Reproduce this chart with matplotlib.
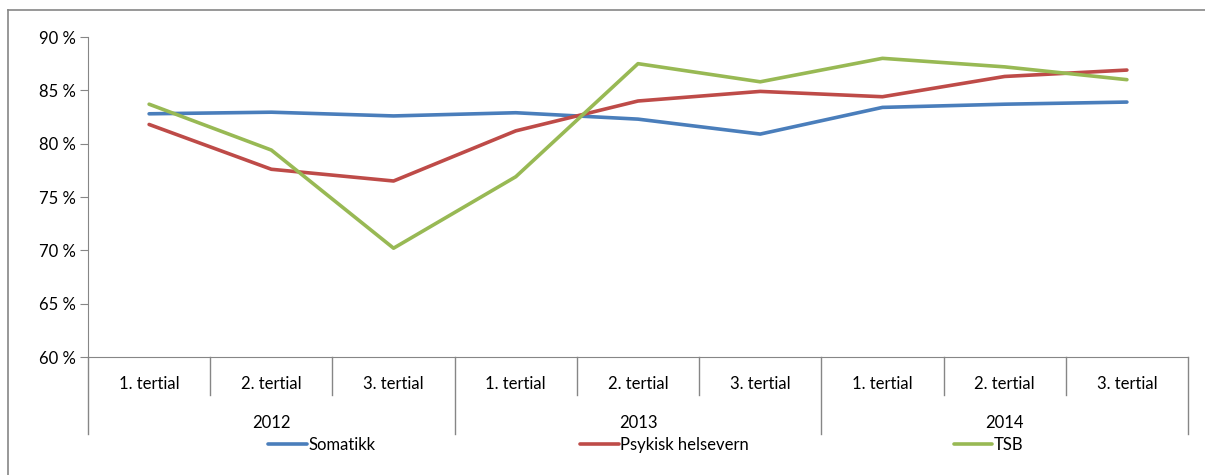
import matplotlib
matplotlib.use("Agg")
import matplotlib.pyplot as plt
from matplotlib.transforms import blended_transform_factory
from matplotlib.lines import Line2D

plt.rcParams['font.family'] = ['Lato', 'DejaVu Sans']

tertials = ["1. tertial", "2. tertial", "3. tertial"] * 3
years = ["2012", "2013", "2014"]
series_names = ["Somatikk", "Psykisk helsevern", "TSB"]
somatikk = [82.8, 82.95, 82.6, 82.9, 82.3, 80.9, 83.4, 83.7, 83.9]
psykisk = [81.8, 77.6, 76.5, 81.2, 84.0, 84.9, 84.4, 86.3, 86.9]
tsb = [83.7, 79.4, 70.2, 76.9, 87.5, 85.8, 88.0, 87.2, 86.0]
yticks = [60, 65, 70, 75, 80, 85, 90]
colors = ["#4A7EBB", "#BE4B48", "#98B954"]

W, H = 1205, 475
fig = plt.figure(figsize=(W / 100, H / 100), dpi=100)
ax = fig.add_axes([88 / W, 1 - 357 / H, 1100 / W, 320 / H])

x = list(range(len(tertials)))
for vals, name, c in zip([somatikk, psykisk, tsb], series_names, colors):
    ax.plot(x, vals, color=c, lw=2.6, label=name, solid_capstyle='round', solid_joinstyle='round')

ax.set_xlim(-0.5, len(tertials) - 0.5)
ax.set_ylim(60, 90)
ax.set_yticks(yticks)
ax.set_yticklabels([f"{v} %" for v in yticks], fontsize=12)
ax.set_xticks([])
for s in ["top", "right"]:
    ax.spines[s].set_visible(False)
ax.spines["left"].set_color("#868686")
ax.spines["bottom"].set_color("#868686")
ax.tick_params(axis='y', length=6, color="#868686", pad=3)

tr = blended_transform_factory(ax.transData, fig.transFigure)
def fy(p):
    return 1 - p / H

# category labels and separators
for i, t in enumerate(tertials):
    ax.text(i, fy(384), t, transform=tr, ha='center', va='center', fontsize=12)
for i in range(len(tertials) + 1):
    xb = i - 0.5
    bottom = 434 if i % 3 == 0 else 395
    ax.add_line(Line2D([xb, xb], [fy(357), fy(bottom)], transform=tr, color="#868686", lw=1, clip_on=False))
for j, yr in enumerate(years):
    ax.text(3 * j + 1, fy(423), yr, transform=tr, ha='center', va='center', fontsize=12)

# outer frame
fig.add_artist(Line2D([8 / W, 8 / W], [fy(10), 0], transform=fig.transFigure, color="#868686", lw=1.2))
fig.add_artist(Line2D([8 / W, 1], [fy(10), fy(10)], transform=fig.transFigure, color="#868686", lw=1.2))

leg = ax.legend(loc='center', bbox_to_anchor=(646 / W, fy(445)), bbox_transform=fig.transFigure,
                ncol=3, frameon=False, fontsize=12, handlelength=2.3, handletextpad=0.1,
                columnspacing=12.3, borderpad=0)

fig.savefig("out.png", dpi=100)
